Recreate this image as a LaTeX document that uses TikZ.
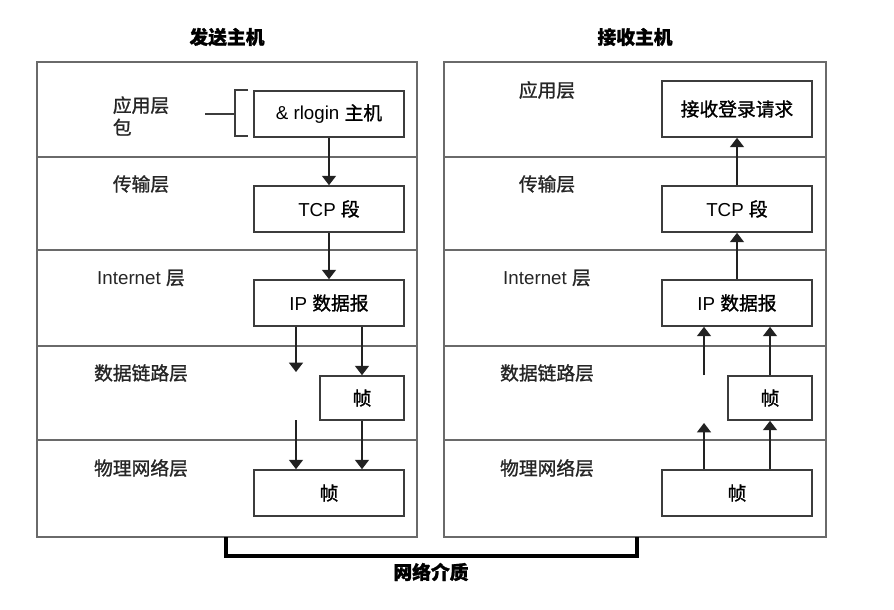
\documentclass[tikz,border=0pt]{standalone}
\usepackage{fontspec}
\setmainfont{Liberation Sans}
\newfontfamily\cjk[FakeBold=1.2]{Noto Sans CJK SC}
\usetikzlibrary{arrows.meta}
\definecolor{HostLine}{HTML}{6A6A6A}
\definecolor{BoxLine}{HTML}{3C3C3C}
\definecolor{FlowLine}{HTML}{222222}

\begin{document}
\begin{tikzpicture}[x=0.03cm,y=-0.03cm,
  font=\fontsize{16}{19}\selectfont,
  host/.style={draw=HostLine,line width=1.3pt},
  pkt/.style={draw=BoxLine,line width=1.4pt,minimum width=4.5cm,minimum height=1.38cm,inner sep=0pt},
  frm/.style={pkt,minimum width=2.52cm,minimum height=1.32cm},
  flow/.style={draw=FlowLine,line width=1.1pt,-{Triangle[width=12pt,length=8pt]}},
  lyr/.style={align=left,text=black!85},
  ttl/.style={font=\fontsize{16}{19}\selectfont\cjk\bfseries},
  net/.style={line width=3.2pt,black}]
\path[use as bounding box] (0,0) rectangle (894,609);
\fill[white] (0,0) rectangle (894,609);

% sending host
\node[ttl] (stitle) at (227,37) {发送主机};
\draw[host] (37,62) rectangle (417,537);
\draw[host] (37,157) -- (417,157);
\draw[host] (37,250) -- (417,250);
\draw[host] (37,346) -- (417,346);
\draw[host] (37,440) -- (417,440);
\node[lyr] (sapplbl) at (141,116) {\cjk 应用层\\\cjk 包};
\node[lyr] (stralbl) at (141,184) {\cjk 传输层};
\node[lyr] (sinetlbl) at (141,278) {Internet {\cjk 层}};
\node[lyr] (sdllbl) at (141,373) {\cjk 数据链路层};
\node[lyr] (sphylbl) at (141,468) {\cjk 物理网络层};

\node[pkt] (sapp) at (329,114) {\& rlogin {\cjk 主机}};
\node[pkt] (stcp) at (329,209) {TCP {\cjk 段}};
\node[pkt] (sip) at (329,303) {IP {\cjk 数据报}};
\node[frm] (sdl) at (362,398) {\cjk 帧};
\node[pkt] (sphy) at (329,493) {\cjk 帧};

\draw[host,draw=BoxLine] ([xshift=-0.15cm]sapp.north west) -- ++(-13,0) -- ++(0,46) -- ++(13,0);
\draw[host,draw=BoxLine] ([xshift=-0.54cm]sapp.west) -- ++(-30,0);

\coordinate (sgapa) at (296,372);
\coordinate (sgapb) at (296,420);
\draw[flow] (sapp) -- (stcp);
\draw[flow] (stcp) -- (sip);
\draw[flow] (sgapa|-sip.south) -- (sgapa);
\draw[flow] (sdl|-sip.south) -- (sdl);
\draw[flow] (sgapb) -- (sgapb|-sphy.north);
\draw[flow] (sdl) -- (sdl|-sphy.north);

% receiving host
\node[ttl] (rtitle) at (635,37) {接收主机};
\draw[host] (444,62) rectangle (826,537);
\draw[host] (444,157) -- (826,157);
\draw[host] (444,250) -- (826,250);
\draw[host] (444,346) -- (826,346);
\draw[host] (444,440) -- (826,440);
\node[lyr] (rapplbl) at (547,90) {\cjk 应用层};
\node[lyr] (rtralbl) at (547,184) {\cjk 传输层};
\node[lyr] (rinetlbl) at (547,278) {Internet {\cjk 层}};
\node[lyr] (rdllbl) at (547,373) {\cjk 数据链路层};
\node[lyr] (rphylbl) at (547,468) {\cjk 物理网络层};

\node[pkt,minimum height=1.68cm] (rapp) at (737,109) {\cjk 接收登录请求};
\node[pkt] (rtcp) at (737,209) {TCP {\cjk 段}};
\node[pkt] (rip) at (737,303) {IP {\cjk 数据报}};
\node[frm] (rdl) at (770,398) {\cjk 帧};
\node[pkt] (rphy) at (737,493) {\cjk 帧};

\coordinate (rgapa) at (704,375);
\coordinate (rgapb) at (704,423);
\draw[flow] (rtcp) -- (rapp);
\draw[flow] (rip) -- (rtcp);
\draw[flow] (rgapa) -- (rgapa|-rip.south);
\draw[flow] (rdl) -- (rdl|-rip.south);
\draw[flow] (rgapb|-rphy.north) -- (rgapb);
\draw[flow] (rdl|-rphy.north) -- (rdl);

% network medium
\coordinate (sport) at (226,537);
\coordinate (rport) at (637,537);
\draw[net] (sport) -- ++(0,19) -| (rport);
\node[ttl] (netlbl) at (431,572) {网络介质};
\end{tikzpicture}
\end{document}
